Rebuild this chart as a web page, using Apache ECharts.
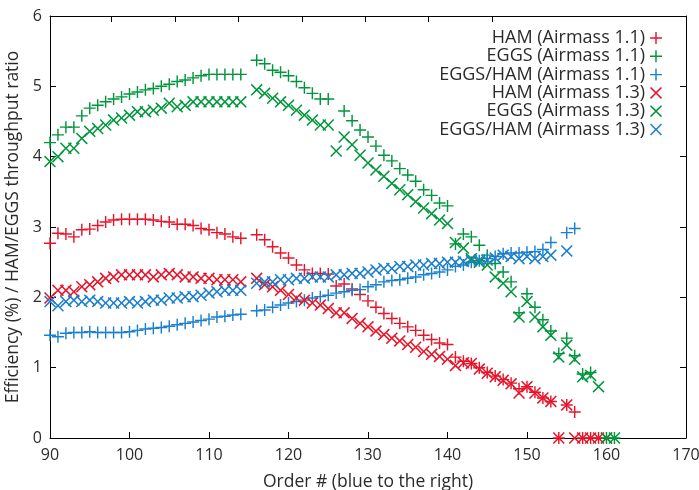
<!DOCTYPE html>
<html><head><meta charset="utf-8">
<script src="https://cdn.jsdelivr.net/npm/echarts@6/dist/echarts.min.js"></script>
<style>html,body{margin:0;padding:0;background:#fff}#c{width:699px;height:490px}</style>
</head><body><div id="c"></div><script>
// Echelle order numbers 90..161
const orders = [90,91,92,93,94,95,96,97,98,99,100,101,102,103,104,105,106,107,108,109,110,111,112,113,114,115,116,117,118,119,120,121,122,123,124,125,126,127,128,129,130,131,132,133,134,135,136,137,138,139,140,141,142,143,144,145,146,147,148,149,150,151,152,153,154,155,156,157,158,159,160,161];

const ham11 = [2.77,2.91,2.90,2.86,2.96,2.97,3.02,3.07,3.10,3.11,3.11,3.11,3.11,3.10,3.08,3.07,3.04,3.04,3.02,2.98,2.96,2.92,2.90,2.86,2.84,null,
  2.89,2.82,2.72,2.63,2.56,2.46,2.39,2.34,2.34,2.33,2.16,2.19,2.12,2.04,1.95,1.86,1.77,1.70,1.63,1.58,1.53,1.46,1.40,1.35,1.33,1.15,1.09,1.06,1.00,0.93,0.88,0.83,0.78,0.70,0.73,0.65,0.57,0.52,0,0.47,0.37,0,0,0,null,null];
const eggs11 = [4.20,4.31,4.42,4.42,4.58,4.69,4.73,4.78,4.82,4.85,4.89,4.92,4.95,4.97,5.00,5.03,5.07,5.09,5.12,5.15,5.17,5.17,5.17,5.17,5.17,null,
  5.37,5.32,5.23,5.20,5.15,5.07,4.98,4.90,4.82,4.82,null,4.65,4.51,4.38,4.28,4.15,4.02,3.94,3.83,3.74,3.65,3.53,3.45,3.34,3.30,2.76,2.90,2.86,2.74,2.60,2.48,2.36,2.22,1.78,2.05,1.86,1.68,1.52,1.20,1.42,1.17,0.91,0.93,null,0,0];
const ratio11 = [1.46,1.44,1.49,1.50,1.50,1.51,1.50,1.50,1.50,1.50,1.51,1.53,1.55,1.56,1.57,1.59,1.61,1.63,1.65,1.67,1.69,1.72,1.73,1.75,1.76,null,
  1.81,1.82,1.86,1.89,1.92,1.94,1.96,1.99,2.01,2.03,2.06,2.08,2.10,2.11,2.15,2.18,2.22,2.24,2.25,2.27,2.29,2.32,2.34,2.36,2.39,2.44,2.46,2.50,2.52,2.55,2.58,2.62,2.63,2.63,2.64,2.65,2.68,2.78,null,2.92,2.98,null,null,null,null,null];
const ham13 = [1.99,2.10,2.10,2.08,2.15,2.18,2.22,2.27,2.29,2.32,2.32,2.32,2.32,2.29,2.32,2.34,2.32,2.29,2.29,2.27,2.27,2.25,2.25,2.25,2.22,null,
  2.27,2.18,2.15,2.10,2.04,1.99,1.96,1.92,1.89,1.84,1.78,1.78,1.70,1.63,1.58,1.52,1.47,1.42,1.38,1.33,1.29,1.23,1.19,1.16,1.12,1.03,1.07,1.06,0.98,0.92,0.87,0.82,0.77,0.64,0.73,0.64,0.57,0.52,0,0.47,0,0,0,0,0,null];
const eggs13 = [3.93,4.00,4.12,4.12,4.26,4.36,4.40,4.45,4.52,4.55,4.59,4.64,4.64,4.66,4.69,4.76,4.71,4.73,4.78,4.78,4.78,4.78,4.78,4.78,4.78,null,
  4.95,4.90,4.83,4.78,4.73,4.66,4.59,4.52,4.45,4.45,4.08,4.28,4.17,4.02,3.91,3.81,3.72,3.62,3.53,3.46,3.36,3.27,3.19,3.10,3.05,2.78,2.70,2.55,2.50,2.46,2.29,2.20,2.08,1.72,1.94,1.72,1.58,1.46,1.15,1.32,1.12,0.87,0.89,0.73,0,0];
const ratio13 = [1.94,1.88,1.94,1.96,1.94,1.96,1.94,1.92,1.92,1.92,1.94,1.92,1.94,1.96,1.96,1.99,1.99,2.01,2.01,2.03,2.06,2.08,2.10,2.10,2.10,null,
  2.20,2.22,2.22,2.25,2.25,2.27,2.27,2.29,2.29,2.29,2.32,2.32,2.34,2.34,2.36,2.39,2.41,2.41,2.44,2.44,2.46,2.46,2.48,2.48,2.50,2.50,2.51,2.52,2.53,2.53,2.56,2.60,2.58,2.55,2.58,2.55,2.58,2.60,null,2.66,null,null,null,null,null,null];

const seriesNames = ['HAM (Airmass 1.1)','EGGS (Airmass 1.1)','EGGS/HAM (Airmass 1.1)','HAM (Airmass 1.3)','EGGS (Airmass 1.3)','EGGS/HAM (Airmass 1.3)'];
const xTicks = [90,100,110,120,130,140,150,160,170];
const yTicks = [0,1,2,3,4,5,6];
const topTicks = [97.76,105.73,113.70,121.67,129.64,137.60,145.57];

const RED='#e8142a', GREEN='#00963c', BLUE='#1a7fcc';
const PLUS='path://M44,0H56V44H100V56H56V100H44V56H0V44H44Z';
const CROSS='path://M0,9L9,0L50,41L91,0L100,9L59,50L100,91L91,100L50,59L9,100L0,91L41,50Z';
const FONT='"Open Sans", "Liberation Sans", Arial, sans-serif';
const TXT='#2b2b2b';

function pts(vals){ const out=[]; vals.forEach((v,i)=>{ if(v!==null) out.push([orders[i],v]); }); return out; }

const specs = [
  [ham11, RED, PLUS, 12],
  [eggs11, GREEN, PLUS, 12],
  [ratio11, BLUE, PLUS, 12],
  [ham13, RED, CROSS, 12],
  [eggs13, GREEN, CROSS, 12],
  [ratio13, BLUE, CROSS, 12]
];

const series = specs.map((s,i)=>({
  name: seriesNames[i], type:'scatter', data: pts(s[0]), symbol: s[2], symbolSize: s[3],
  itemStyle:{color:s[1], opacity:1}, animation:false, emphasis:{disabled:true}
}));

const axisCommon = {
  axisLine:{show:true, onZero:false, lineStyle:{color:'#000', width:1}},
  axisTick:{show:true, inside:true, length:6, lineStyle:{color:'#000'}},
  splitLine:{show:false}
};

const chart = echarts.init(document.getElementById('c'), null, {renderer:'canvas'});
chart.setOption({
  backgroundColor:'#fff',
  animation:false,
  textStyle:{fontFamily:FONT},
  grid:{left:50, right:13, top:16, bottom:52, containLabel:false, outerBoundsMode:'none'},
  xAxis:[
    Object.assign({}, axisCommon, {type:'value', position:'bottom', min:xTicks[0], max:xTicks[xTicks.length-1], interval:10,
      name:'Order # (blue to the right)', nameLocation:'middle', nameGap:35,
      nameTextStyle:{fontSize:17.5, color:TXT, fontFamily:FONT},
      axisLabel:{fontSize:16, color:TXT, margin:9, fontFamily:FONT}}),
    Object.assign({}, axisCommon, {type:'value', position:'top', min:xTicks[0], max:xTicks[xTicks.length-1],
      axisTick:{show:true, inside:true, length:6, lineStyle:{color:'#000'}, customValues:topTicks},
      axisLabel:{show:false}})
  ],
  yAxis:[
    Object.assign({}, axisCommon, {type:'value', position:'left', min:yTicks[0], max:yTicks[yTicks.length-1], interval:1,
      name:'Efficiency (%) / HAM/EGGS throughput ratio', nameLocation:'middle', nameGap:26, nameRotate:90,
      nameTextStyle:{fontSize:17.5, color:TXT, fontFamily:FONT},
      axisLabel:{fontSize:16, color:TXT, margin:8, fontFamily:FONT}}),
    Object.assign({}, axisCommon, {type:'value', position:'right', min:yTicks[0], max:yTicks[yTicks.length-1], interval:1,
      axisLabel:{show:false}})
  ],
  legend:{
    orient:'vertical', right:32, top:24, align:'right',
    itemWidth:12, itemHeight:12, itemGap:0.3,
    textStyle:{fontSize:18, color:TXT, lineHeight:18, fontFamily:FONT},
    data: seriesNames, selectedMode:false
  },
  series: series
});
</script></body></html>
